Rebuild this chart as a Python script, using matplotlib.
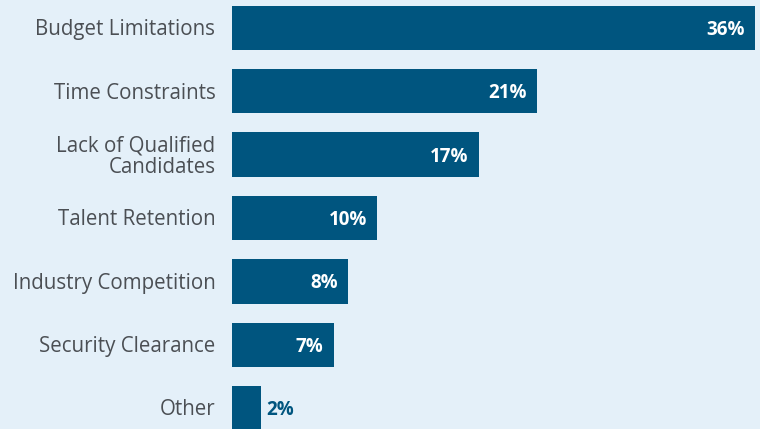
import matplotlib.pyplot as plt

# challenges and share of respondents (%)
categories = ["Budget Limitations", "Time Constraints", "Lack of Qualified\nCandidates",
              "Talent Retention", "Industry Competition", "Security Clearance", "Other"]
values = [36, 21, 17, 10, 8, 7, 2]
value_labels = ["36%", "21%", "17%", "10%", "8%", "7%", "2%"]

bar_color = "#00557f"
bg_color = "#e4f0f9"
label_color = "#4b4f54"

plt.rcParams['font.family'] = ['Open Sans', 'DejaVu Sans']

fig = plt.figure(figsize=(7.6, 4.29), dpi=100, facecolor=bg_color)
ax = fig.add_axes([232 / 760, 0, 1 - 232 / 760, 1])
ax.set_facecolor(bg_color)

y = list(range(len(categories)))
ax.barh(y, values, height=0.70, color=bar_color)

ax.set_xlim(0, 36.34)
ax.set_ylim(6.33, -0.44)

# category names to the left of the bars
for yi, name in zip(y, categories):
    ax.text(-1.15, yi + 0.03, name, ha="right", va="center", fontsize=14.8,
            color=label_color, linespacing=1.0)

# value labels: inside the bar, or just outside for short bars
for yi, v, lab in zip(y, values, value_labels):
    if v >= 5:
        ax.text(v - 0.7, yi + 0.03, lab, ha="right", va="center", fontsize=13.5,
                fontweight="bold", color="white")
    else:
        ax.text(v + 0.35, yi + 0.03, lab, ha="left", va="center", fontsize=13.5,
                fontweight="bold", color=bar_color)

ax.axis("off")
fig.savefig("out.png", dpi=100, facecolor=bg_color)
